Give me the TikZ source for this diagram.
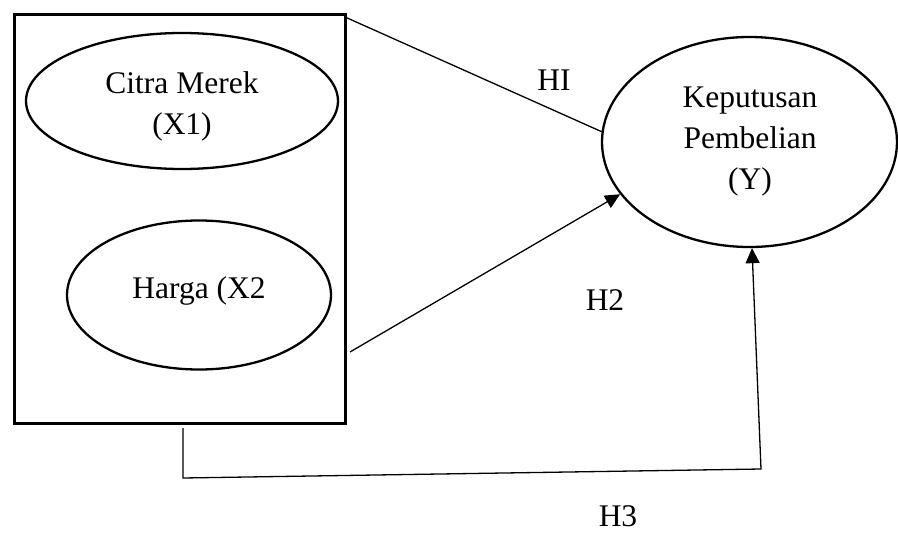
\documentclass[tikz,border=0pt]{standalone}
\usepackage{fontspec}
\setmainfont{Liberation Serif}
\usetikzlibrary{shapes.geometric,arrows.meta}
\begin{document}
\begin{tikzpicture}[x=1pt,y=-1pt,
  ell/.style={draw,ellipse,line width=2.3pt,inner sep=0pt},
  txt/.style={align=center,font=\fontsize{31.5}{41}\selectfont,inner sep=0pt},
  conn/.style={line width=1.3pt},
  arr/.style={conn,-{Triangle[length=15pt,width=14pt]}}]
\useasboundingbox (0,0) rectangle (898,533);
\node[draw,line width=3pt,minimum width=331pt,minimum height=409pt,inner sep=0pt] (box) at (179.5,218.5) {};
\node[ell,minimum width=312pt,minimum height=136pt] (x1) at (182,101) {};
\node[txt] (x1t) at (182,106) {Citra Merek\\(X1)};
\node[ell,minimum width=264pt,minimum height=149pt] (x2) at (199,295) {};
\node[txt] (x2t) at (199,291) {Harga (X2};
\node[ell,minimum width=295pt,minimum height=210pt] (y) at (749.5,142) {};
\node[txt] (yt) at (750,142) {Keputusan\\Pembelian\\(Y)};
\coordinate (h1s) at (345,17);
\coordinate (h2s) at (350,352);
\coordinate (h3a) at (183,428);
\coordinate (h3b) at (183,478);
\coordinate (h3c) at (761,469);
\draw[conn] (h1s) -- (y.176);
\draw[arr] (h2s) -- (y.202);
\draw[arr] (h3a) -- (h3b) -- (h3c) -- ([xshift=2.5pt]y.south);
\node[txt] (l1) at (554,80) {HI};
\node[txt] (l2) at (605,300) {H2};
\node[txt] (l3) at (618,516) {H3};
\end{tikzpicture}
\end{document}
